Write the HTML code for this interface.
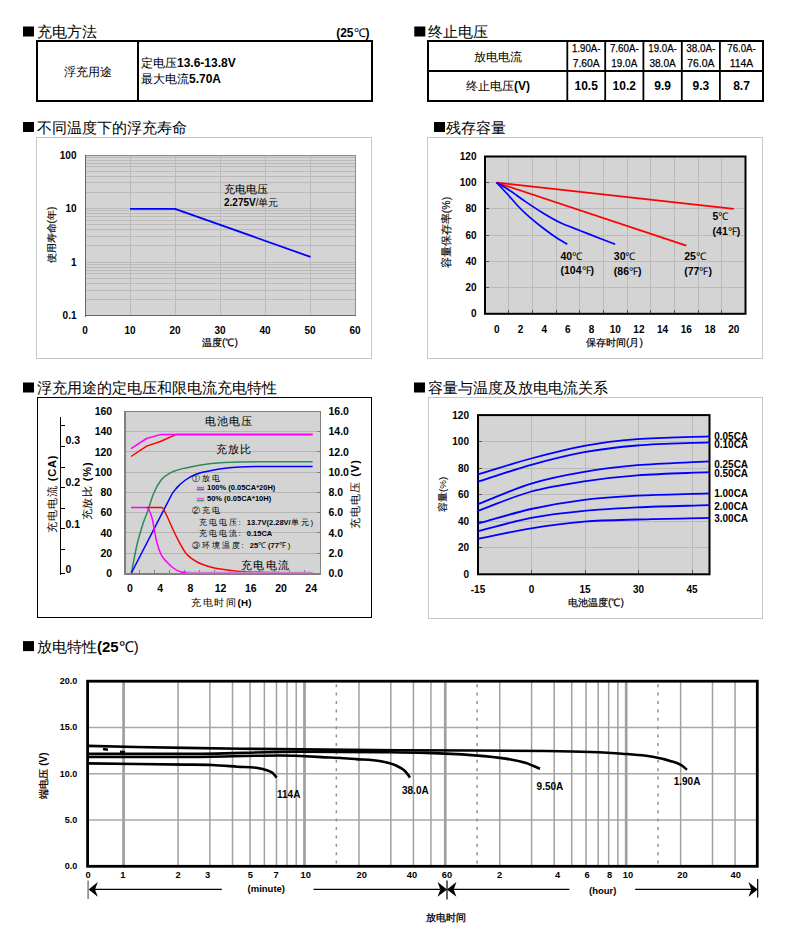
<!DOCTYPE html>
<html><head><meta charset="utf-8"><style>
html,body{margin:0;padding:0;background:#fff;}
body{width:788px;height:945px;overflow:hidden;}
svg{display:block;font-family:"Liberation Sans", sans-serif;}
</style></head><body>
<svg width="788" height="945" viewBox="0 0 788 945">
<rect x="23.00" y="26.50" width="11.00" height="10.00" fill="#000" stroke="none" stroke-width="1" />
<text x="37.0" y="37.0" font-size="15" text-anchor="start" fill="#000" >充电方法</text>
<text x="369.5" y="36.5" font-size="12" font-weight="bold" text-anchor="end">(25<tspan font-weight="normal">℃</tspan>)</text>
<path d="M36,41 H373 M36,101 H373" stroke="#000" stroke-width="2" shape-rendering="crispEdges"/>
<path d="M37,40 V102 M372,40 V102 M138,40 V102" stroke="#000" stroke-width="2" shape-rendering="crispEdges"/>
<text x="87.5" y="75.5" font-size="12" text-anchor="middle" fill="#000" >浮充用途</text>
<text x="141" y="67" font-size="12">定电压<tspan font-weight="bold">13.6-13.8V</tspan></text>
<text x="141" y="83" font-size="12">最大电流<tspan font-weight="bold">5.70A</tspan></text>
<rect x="414.30" y="26.50" width="11.00" height="10.00" fill="#000" stroke="none" stroke-width="1" />
<text x="427.5" y="37.0" font-size="15" text-anchor="start" fill="#000" >终止电压</text>
<path d="M427,41 H764 M427,71 H764 M427,101 H764" stroke="#000" stroke-width="2" shape-rendering="crispEdges"/>
<path d="M428,40 V102 M763,40 V102" stroke="#000" stroke-width="2" shape-rendering="crispEdges"/>
<line x1="567.30" y1="40.00" x2="567.30" y2="102.00" stroke="#000" stroke-width="1.8" />
<line x1="605.20" y1="40.00" x2="605.20" y2="102.00" stroke="#000" stroke-width="1.8" />
<line x1="643.40" y1="40.00" x2="643.40" y2="102.00" stroke="#000" stroke-width="1.8" />
<line x1="681.80" y1="40.00" x2="681.80" y2="102.00" stroke="#000" stroke-width="1.8" />
<line x1="719.90" y1="40.00" x2="719.90" y2="102.00" stroke="#000" stroke-width="1.8" />
<text x="498.0" y="60.5" font-size="12" text-anchor="middle" fill="#000" >放电电流</text>
<text x="498" y="90" font-size="12" text-anchor="middle">终止电压<tspan font-weight="bold">(V)</tspan></text>
<text x="586.2" y="52.3" font-size="11.5" text-anchor="middle" fill="#000" textLength="28.3" lengthAdjust="spacingAndGlyphs" stroke="#000" stroke-width="0.25">1.90A-</text>
<text x="586.2" y="67.4" font-size="11.5" text-anchor="middle" fill="#000" textLength="27.0" lengthAdjust="spacingAndGlyphs" stroke="#000" stroke-width="0.25">7.60A</text>
<text x="586.2" y="89.5" font-size="12" font-weight="bold" text-anchor="middle" fill="#000" >10.5</text>
<text x="624.3" y="52.3" font-size="11.5" text-anchor="middle" fill="#000" textLength="28.8" lengthAdjust="spacingAndGlyphs" stroke="#000" stroke-width="0.25">7.60A-</text>
<text x="624.3" y="67.4" font-size="11.5" text-anchor="middle" fill="#000" textLength="25.9" lengthAdjust="spacingAndGlyphs" stroke="#000" stroke-width="0.25">19.0A</text>
<text x="624.3" y="89.5" font-size="12" font-weight="bold" text-anchor="middle" fill="#000" >10.2</text>
<text x="662.6" y="52.3" font-size="11.5" text-anchor="middle" fill="#000" textLength="28.5" lengthAdjust="spacingAndGlyphs" stroke="#000" stroke-width="0.25">19.0A-</text>
<text x="662.6" y="67.4" font-size="11.5" text-anchor="middle" fill="#000" textLength="26.4" lengthAdjust="spacingAndGlyphs" stroke="#000" stroke-width="0.25">38.0A</text>
<text x="662.6" y="89.5" font-size="12" font-weight="bold" text-anchor="middle" fill="#000" >9.9</text>
<text x="700.8" y="52.3" font-size="11.5" text-anchor="middle" fill="#000" textLength="29.3" lengthAdjust="spacingAndGlyphs" stroke="#000" stroke-width="0.25">38.0A-</text>
<text x="700.8" y="67.4" font-size="11.5" text-anchor="middle" fill="#000" textLength="27.2" lengthAdjust="spacingAndGlyphs" stroke="#000" stroke-width="0.25">76.0A</text>
<text x="700.8" y="89.5" font-size="12" font-weight="bold" text-anchor="middle" fill="#000" >9.3</text>
<text x="741.5" y="52.3" font-size="11.5" text-anchor="middle" fill="#000" textLength="28.5" lengthAdjust="spacingAndGlyphs" stroke="#000" stroke-width="0.25">76.0A-</text>
<text x="741.5" y="67.4" font-size="11.5" text-anchor="middle" fill="#000" textLength="23.5" lengthAdjust="spacingAndGlyphs" stroke="#000" stroke-width="0.25">114A</text>
<text x="741.5" y="89.5" font-size="12" font-weight="bold" text-anchor="middle" fill="#000" >8.7</text>
<rect x="23.00" y="122.00" width="11.00" height="10.00" fill="#000" stroke="none" stroke-width="1" />
<text x="37.0" y="132.5" font-size="15" text-anchor="start" fill="#000" >不同温度下的浮充寿命</text>
<rect x="36.50" y="137.50" width="335.00" height="221.00" fill="#fff" stroke="#c6c6c6" stroke-width="1" shape-rendering="crispEdges"/>
<rect x="85.00" y="155.00" width="271.00" height="160.60" fill="#d4d4d4" stroke="none" stroke-width="1" />
<line x1="85.0" y1="299.5" x2="356.0" y2="299.5" stroke="#bababa" stroke-width="1" shape-rendering="crispEdges"/>
<line x1="85.0" y1="290.5" x2="356.0" y2="290.5" stroke="#bababa" stroke-width="1" shape-rendering="crispEdges"/>
<line x1="85.0" y1="283.5" x2="356.0" y2="283.5" stroke="#bababa" stroke-width="1" shape-rendering="crispEdges"/>
<line x1="85.0" y1="278.5" x2="356.0" y2="278.5" stroke="#bababa" stroke-width="1" shape-rendering="crispEdges"/>
<line x1="85.0" y1="273.5" x2="356.0" y2="273.5" stroke="#bababa" stroke-width="1" shape-rendering="crispEdges"/>
<line x1="85.0" y1="270.5" x2="356.0" y2="270.5" stroke="#bababa" stroke-width="1" shape-rendering="crispEdges"/>
<line x1="85.0" y1="267.5" x2="356.0" y2="267.5" stroke="#bababa" stroke-width="1" shape-rendering="crispEdges"/>
<line x1="85.0" y1="264.5" x2="356.0" y2="264.5" stroke="#bababa" stroke-width="1" shape-rendering="crispEdges"/>
<line x1="85.0" y1="245.5" x2="356.0" y2="245.5" stroke="#bababa" stroke-width="1" shape-rendering="crispEdges"/>
<line x1="85.0" y1="236.5" x2="356.0" y2="236.5" stroke="#bababa" stroke-width="1" shape-rendering="crispEdges"/>
<line x1="85.0" y1="229.5" x2="356.0" y2="229.5" stroke="#bababa" stroke-width="1" shape-rendering="crispEdges"/>
<line x1="85.0" y1="224.5" x2="356.0" y2="224.5" stroke="#bababa" stroke-width="1" shape-rendering="crispEdges"/>
<line x1="85.0" y1="220.5" x2="356.0" y2="220.5" stroke="#bababa" stroke-width="1" shape-rendering="crispEdges"/>
<line x1="85.0" y1="216.5" x2="356.0" y2="216.5" stroke="#bababa" stroke-width="1" shape-rendering="crispEdges"/>
<line x1="85.0" y1="213.5" x2="356.0" y2="213.5" stroke="#bababa" stroke-width="1" shape-rendering="crispEdges"/>
<line x1="85.0" y1="210.5" x2="356.0" y2="210.5" stroke="#bababa" stroke-width="1" shape-rendering="crispEdges"/>
<line x1="85.0" y1="262.5" x2="356.0" y2="262.5" stroke="#bababa" stroke-width="1" shape-rendering="crispEdges"/>
<line x1="85.0" y1="192.5" x2="356.0" y2="192.5" stroke="#bababa" stroke-width="1" shape-rendering="crispEdges"/>
<line x1="85.0" y1="182.5" x2="356.0" y2="182.5" stroke="#bababa" stroke-width="1" shape-rendering="crispEdges"/>
<line x1="85.0" y1="176.5" x2="356.0" y2="176.5" stroke="#bababa" stroke-width="1" shape-rendering="crispEdges"/>
<line x1="85.0" y1="171.5" x2="356.0" y2="171.5" stroke="#bababa" stroke-width="1" shape-rendering="crispEdges"/>
<line x1="85.0" y1="166.5" x2="356.0" y2="166.5" stroke="#bababa" stroke-width="1" shape-rendering="crispEdges"/>
<line x1="85.0" y1="163.5" x2="356.0" y2="163.5" stroke="#bababa" stroke-width="1" shape-rendering="crispEdges"/>
<line x1="85.0" y1="160.5" x2="356.0" y2="160.5" stroke="#bababa" stroke-width="1" shape-rendering="crispEdges"/>
<line x1="85.0" y1="157.5" x2="356.0" y2="157.5" stroke="#bababa" stroke-width="1" shape-rendering="crispEdges"/>
<line x1="85.0" y1="208.5" x2="356.0" y2="208.5" stroke="#bababa" stroke-width="1" shape-rendering="crispEdges"/>
<line x1="130.5" y1="155.0" x2="130.5" y2="315.6" stroke="#bababa" stroke-width="1" shape-rendering="crispEdges" />
<line x1="175.5" y1="155.0" x2="175.5" y2="315.6" stroke="#bababa" stroke-width="1" shape-rendering="crispEdges" />
<line x1="220.5" y1="155.0" x2="220.5" y2="315.6" stroke="#bababa" stroke-width="1" shape-rendering="crispEdges" />
<line x1="265.5" y1="155.0" x2="265.5" y2="315.6" stroke="#bababa" stroke-width="1" shape-rendering="crispEdges" />
<line x1="310.5" y1="155.0" x2="310.5" y2="315.6" stroke="#bababa" stroke-width="1" shape-rendering="crispEdges" />
<rect x="85.5" y="155.5" width="270" height="159.60000000000002" fill="none" stroke="#8c8c8c" stroke-width="1" shape-rendering="crispEdges"/>
<line x1="85.5" y1="155.0" x2="85.5" y2="316.6" stroke="#666" stroke-width="1.5" shape-rendering="crispEdges" />
<line x1="85.0" y1="315.5" x2="356.0" y2="315.5" stroke="#666" stroke-width="1.5" shape-rendering="crispEdges"/>
<text x="76.5" y="319.1" font-size="10" font-weight="bold" text-anchor="end" fill="#000" >0.1</text>
<text x="76.5" y="265.6" font-size="10" font-weight="bold" text-anchor="end" fill="#000" >1</text>
<text x="76.5" y="212.0" font-size="10" font-weight="bold" text-anchor="end" fill="#000" >10</text>
<text x="76.5" y="158.5" font-size="10" font-weight="bold" text-anchor="end" fill="#000" >100</text>
<text x="85.0" y="333.6" font-size="10" font-weight="bold" text-anchor="middle" fill="#000" >0</text>
<text x="130.0" y="333.6" font-size="10" font-weight="bold" text-anchor="middle" fill="#000" >10</text>
<text x="175.0" y="333.6" font-size="10" font-weight="bold" text-anchor="middle" fill="#000" >20</text>
<text x="220.0" y="333.6" font-size="10" font-weight="bold" text-anchor="middle" fill="#000" >30</text>
<text x="265.0" y="333.6" font-size="10" font-weight="bold" text-anchor="middle" fill="#000" >40</text>
<text x="310.0" y="333.6" font-size="10" font-weight="bold" text-anchor="middle" fill="#000" >50</text>
<text x="355.0" y="333.6" font-size="10" font-weight="bold" text-anchor="middle" fill="#000" >60</text>
<text x="220" y="345.8" font-size="10.3" stroke="#000" stroke-width="0.2" text-anchor="middle">温度(℃)</text>
<text transform="translate(55,235) rotate(-90)" font-size="10.3" stroke="#000" stroke-width="0.15" text-anchor="middle">使用寿命(年)</text>
<polyline points="130.0,208.8 175.0,208.8 310.5,256.9" fill="none" stroke="#0000ff" stroke-width="1.8" stroke-linejoin="round" stroke-linecap="butt" />
<text x="224.0" y="192.8" font-size="10.5" text-anchor="start" fill="#000" >充电电压</text>
<text x="224" y="206" font-size="10"><tspan font-weight="bold">2.275V</tspan>/单元</text>
<rect x="434.00" y="122.00" width="11.00" height="10.00" fill="#000" stroke="none" stroke-width="1" />
<text x="446.0" y="132.5" font-size="15" text-anchor="start" fill="#000" >残存容量</text>
<rect x="427.50" y="137.50" width="334.50" height="220.50" fill="#fff" stroke="#c6c6c6" stroke-width="1" shape-rendering="crispEdges"/>
<rect x="485.00" y="156.50" width="260.50" height="157.30" fill="#d4d4d4" stroke="none" stroke-width="1" />
<line x1="508.5" y1="156.5" x2="508.5" y2="313.8" stroke="#bababa" stroke-width="1" shape-rendering="crispEdges" />
<line x1="508.5" y1="309.8" x2="508.5" y2="313.8" stroke="#555" stroke-width="1" shape-rendering="crispEdges" />
<line x1="532.5" y1="156.5" x2="532.5" y2="313.8" stroke="#bababa" stroke-width="1" shape-rendering="crispEdges" />
<line x1="532.5" y1="309.8" x2="532.5" y2="313.8" stroke="#555" stroke-width="1" shape-rendering="crispEdges" />
<line x1="556.5" y1="156.5" x2="556.5" y2="313.8" stroke="#bababa" stroke-width="1" shape-rendering="crispEdges" />
<line x1="556.5" y1="309.8" x2="556.5" y2="313.8" stroke="#555" stroke-width="1" shape-rendering="crispEdges" />
<line x1="579.5" y1="156.5" x2="579.5" y2="313.8" stroke="#bababa" stroke-width="1" shape-rendering="crispEdges" />
<line x1="579.5" y1="309.8" x2="579.5" y2="313.8" stroke="#555" stroke-width="1" shape-rendering="crispEdges" />
<line x1="603.5" y1="156.5" x2="603.5" y2="313.8" stroke="#bababa" stroke-width="1" shape-rendering="crispEdges" />
<line x1="603.5" y1="309.8" x2="603.5" y2="313.8" stroke="#555" stroke-width="1" shape-rendering="crispEdges" />
<line x1="627.5" y1="156.5" x2="627.5" y2="313.8" stroke="#bababa" stroke-width="1" shape-rendering="crispEdges" />
<line x1="627.5" y1="309.8" x2="627.5" y2="313.8" stroke="#555" stroke-width="1" shape-rendering="crispEdges" />
<line x1="650.5" y1="156.5" x2="650.5" y2="313.8" stroke="#bababa" stroke-width="1" shape-rendering="crispEdges" />
<line x1="650.5" y1="309.8" x2="650.5" y2="313.8" stroke="#555" stroke-width="1" shape-rendering="crispEdges" />
<line x1="674.5" y1="156.5" x2="674.5" y2="313.8" stroke="#bababa" stroke-width="1" shape-rendering="crispEdges" />
<line x1="674.5" y1="309.8" x2="674.5" y2="313.8" stroke="#555" stroke-width="1" shape-rendering="crispEdges" />
<line x1="698.5" y1="156.5" x2="698.5" y2="313.8" stroke="#bababa" stroke-width="1" shape-rendering="crispEdges" />
<line x1="698.5" y1="309.8" x2="698.5" y2="313.8" stroke="#555" stroke-width="1" shape-rendering="crispEdges" />
<line x1="721.5" y1="156.5" x2="721.5" y2="313.8" stroke="#bababa" stroke-width="1" shape-rendering="crispEdges" />
<line x1="721.5" y1="309.8" x2="721.5" y2="313.8" stroke="#555" stroke-width="1" shape-rendering="crispEdges" />
<line x1="485.0" y1="287.5" x2="745.5" y2="287.5" stroke="#bababa" stroke-width="1" shape-rendering="crispEdges"/>
<line x1="485.0" y1="287.5" x2="489.0" y2="287.5" stroke="#555" stroke-width="1" shape-rendering="crispEdges"/>
<line x1="485.0" y1="261.5" x2="745.5" y2="261.5" stroke="#bababa" stroke-width="1" shape-rendering="crispEdges"/>
<line x1="485.0" y1="261.5" x2="489.0" y2="261.5" stroke="#555" stroke-width="1" shape-rendering="crispEdges"/>
<line x1="485.0" y1="235.5" x2="745.5" y2="235.5" stroke="#bababa" stroke-width="1" shape-rendering="crispEdges"/>
<line x1="485.0" y1="235.5" x2="489.0" y2="235.5" stroke="#555" stroke-width="1" shape-rendering="crispEdges"/>
<line x1="485.0" y1="208.5" x2="745.5" y2="208.5" stroke="#bababa" stroke-width="1" shape-rendering="crispEdges"/>
<line x1="485.0" y1="208.5" x2="489.0" y2="208.5" stroke="#555" stroke-width="1" shape-rendering="crispEdges"/>
<line x1="485.0" y1="182.5" x2="745.5" y2="182.5" stroke="#bababa" stroke-width="1" shape-rendering="crispEdges"/>
<line x1="485.0" y1="182.5" x2="489.0" y2="182.5" stroke="#555" stroke-width="1" shape-rendering="crispEdges"/>
<rect x="485.00" y="156.50" width="260.50" height="157.30" fill="none" stroke="#000" stroke-width="2" />
<text x="476.5" y="317.3" font-size="10" font-weight="bold" text-anchor="end" fill="#000" >0</text>
<text x="476.5" y="291.1" font-size="10" font-weight="bold" text-anchor="end" fill="#000" >20</text>
<text x="476.5" y="264.9" font-size="10" font-weight="bold" text-anchor="end" fill="#000" >40</text>
<text x="476.5" y="238.7" font-size="10" font-weight="bold" text-anchor="end" fill="#000" >60</text>
<text x="476.5" y="212.4" font-size="10" font-weight="bold" text-anchor="end" fill="#000" >80</text>
<text x="476.5" y="186.2" font-size="10" font-weight="bold" text-anchor="end" fill="#000" >100</text>
<text x="476.5" y="160.0" font-size="10" font-weight="bold" text-anchor="end" fill="#000" >120</text>
<text x="496.8" y="332.8" font-size="10" font-weight="bold" text-anchor="middle" fill="#000" >0</text>
<text x="520.5" y="332.8" font-size="10" font-weight="bold" text-anchor="middle" fill="#000" >2</text>
<text x="544.2" y="332.8" font-size="10" font-weight="bold" text-anchor="middle" fill="#000" >4</text>
<text x="567.9" y="332.8" font-size="10" font-weight="bold" text-anchor="middle" fill="#000" >6</text>
<text x="591.6" y="332.8" font-size="10" font-weight="bold" text-anchor="middle" fill="#000" >8</text>
<text x="615.2" y="332.8" font-size="10" font-weight="bold" text-anchor="middle" fill="#000" >10</text>
<text x="638.9" y="332.8" font-size="10" font-weight="bold" text-anchor="middle" fill="#000" >12</text>
<text x="662.6" y="332.8" font-size="10" font-weight="bold" text-anchor="middle" fill="#000" >14</text>
<text x="686.3" y="332.8" font-size="10" font-weight="bold" text-anchor="middle" fill="#000" >16</text>
<text x="710.0" y="332.8" font-size="10" font-weight="bold" text-anchor="middle" fill="#000" >18</text>
<text x="733.7" y="332.8" font-size="10" font-weight="bold" text-anchor="middle" fill="#000" >20</text>
<text x="614.5" y="345.8" font-size="10.3" stroke="#000" stroke-width="0.2" text-anchor="middle">保存时间(月)</text>
<text transform="translate(450,232.5) rotate(-90)" font-size="10.5" stroke="#000" stroke-width="0.15" text-anchor="middle">容量保存率(%)</text>
<polyline points="496.8,182.7 733.7,208.9" fill="none" stroke="#ff0000" stroke-width="1.7" stroke-linejoin="round" stroke-linecap="butt" />
<polyline points="496.8,182.7 686.3,245.6" fill="none" stroke="#ff0000" stroke-width="1.7" stroke-linejoin="round" stroke-linecap="butt" />
<path d="M496.5,182.5 C500.3,184.7 504.0,186.8 507.8,189.2 C513.7,193.0 519.6,197.6 525.5,201.6 C531.4,205.6 537.4,209.6 543.3,213.2 C549.2,216.8 555.1,220.2 561.0,223.0 C564.6,224.7 568.1,226.0 571.7,227.4 C577.0,229.5 582.4,231.5 587.7,233.6 C596.9,237.2 606.0,240.7 615.2,244.3" fill="none" stroke="#0000ff" stroke-width="1.7" stroke-linejoin="round" />
<path d="M496.5,182.5 C500.3,186.5 504.0,190.4 507.8,194.5 C511.3,198.4 514.9,202.8 518.4,206.5 C521.9,210.2 525.5,213.6 529.0,216.7 C533.8,220.9 538.5,224.7 543.3,228.3 C547.4,231.5 551.6,234.5 555.7,237.2 C559.6,239.8 563.4,241.9 567.3,244.3" fill="none" stroke="#0000ff" stroke-width="1.7" stroke-linejoin="round" />
<text x="712.6" y="220" font-size="10.5" font-weight="bold">5<tspan font-weight="normal">℃</tspan></text>
<text x="712.6" y="234.5" font-size="10.5" font-weight="bold">(41<tspan font-weight="normal">℉</tspan>)</text>
<text x="684.2" y="260" font-size="10.5" font-weight="bold">25<tspan font-weight="normal">℃</tspan></text>
<text x="684.2" y="274.5" font-size="10.5" font-weight="bold">(77<tspan font-weight="normal">℉</tspan>)</text>
<text x="613.8" y="260" font-size="10.5" font-weight="bold">30<tspan font-weight="normal">℃</tspan></text>
<text x="613.8" y="274.5" font-size="10.5" font-weight="bold">(86<tspan font-weight="normal">℉</tspan>)</text>
<text x="560.5" y="259.7" font-size="10.5" font-weight="bold">40<tspan font-weight="normal">℃</tspan></text>
<text x="560.5" y="274.2" font-size="10.5" font-weight="bold">(104<tspan font-weight="normal">℉</tspan>)</text>
<rect x="23.00" y="382.50" width="11.00" height="10.00" fill="#000" stroke="none" stroke-width="1" />
<text x="37.0" y="393.0" font-size="15" text-anchor="start" fill="#000" >浮充用途的定电压和限电流充电特性</text>
<rect x="37.5" y="397" width="334" height="220.5" fill="#fff" stroke="#000" stroke-width="1" shape-rendering="crispEdges"/>
<rect x="124.00" y="411.40" width="196.00" height="162.00" fill="#d4d4d4" stroke="none" stroke-width="1" />
<line x1="124.0" y1="553.5" x2="320.0" y2="553.5" stroke="#b4b4b4" stroke-width="1" shape-rendering="crispEdges"/>
<line x1="124.0" y1="532.5" x2="320.0" y2="532.5" stroke="#b4b4b4" stroke-width="1" shape-rendering="crispEdges"/>
<line x1="124.0" y1="512.5" x2="320.0" y2="512.5" stroke="#b4b4b4" stroke-width="1" shape-rendering="crispEdges"/>
<line x1="124.0" y1="492.5" x2="320.0" y2="492.5" stroke="#b4b4b4" stroke-width="1" shape-rendering="crispEdges"/>
<line x1="124.0" y1="472.5" x2="320.0" y2="472.5" stroke="#b4b4b4" stroke-width="1" shape-rendering="crispEdges"/>
<line x1="124.0" y1="451.5" x2="320.0" y2="451.5" stroke="#b4b4b4" stroke-width="1" shape-rendering="crispEdges"/>
<line x1="124.0" y1="431.5" x2="320.0" y2="431.5" stroke="#b4b4b4" stroke-width="1" shape-rendering="crispEdges"/>
<line x1="124.5" y1="411.4" x2="124.5" y2="574.4" stroke="#808080" stroke-width="2" shape-rendering="crispEdges" />
<line x1="124.0" y1="573.5" x2="321.0" y2="573.5" stroke="#808080" stroke-width="2" shape-rendering="crispEdges"/>
<line x1="320.5" y1="411.4" x2="320.5" y2="574.4" stroke="#808080" stroke-width="1" shape-rendering="crispEdges" />
<line x1="124.0" y1="411.5" x2="320.0" y2="411.5" stroke="#808080" stroke-width="1" shape-rendering="crispEdges"/>
<line x1="139.5" y1="570.4" x2="139.5" y2="573.4" stroke="#808080" stroke-width="1" shape-rendering="crispEdges" />
<line x1="154.5" y1="570.4" x2="154.5" y2="573.4" stroke="#808080" stroke-width="1" shape-rendering="crispEdges" />
<line x1="169.5" y1="570.4" x2="169.5" y2="573.4" stroke="#808080" stroke-width="1" shape-rendering="crispEdges" />
<line x1="184.5" y1="570.4" x2="184.5" y2="573.4" stroke="#808080" stroke-width="1" shape-rendering="crispEdges" />
<line x1="199.5" y1="570.4" x2="199.5" y2="573.4" stroke="#808080" stroke-width="1" shape-rendering="crispEdges" />
<line x1="214.5" y1="570.4" x2="214.5" y2="573.4" stroke="#808080" stroke-width="1" shape-rendering="crispEdges" />
<line x1="229.5" y1="570.4" x2="229.5" y2="573.4" stroke="#808080" stroke-width="1" shape-rendering="crispEdges" />
<line x1="244.5" y1="570.4" x2="244.5" y2="573.4" stroke="#808080" stroke-width="1" shape-rendering="crispEdges" />
<line x1="259.5" y1="570.4" x2="259.5" y2="573.4" stroke="#808080" stroke-width="1" shape-rendering="crispEdges" />
<line x1="274.5" y1="570.4" x2="274.5" y2="573.4" stroke="#808080" stroke-width="1" shape-rendering="crispEdges" />
<line x1="289.5" y1="570.4" x2="289.5" y2="573.4" stroke="#808080" stroke-width="1" shape-rendering="crispEdges" />
<line x1="304.5" y1="570.4" x2="304.5" y2="573.4" stroke="#808080" stroke-width="1" shape-rendering="crispEdges" />
<line x1="317.0" y1="553.5" x2="320.0" y2="553.5" stroke="#808080" stroke-width="1" shape-rendering="crispEdges"/>
<line x1="317.0" y1="532.5" x2="320.0" y2="532.5" stroke="#808080" stroke-width="1" shape-rendering="crispEdges"/>
<line x1="317.0" y1="512.5" x2="320.0" y2="512.5" stroke="#808080" stroke-width="1" shape-rendering="crispEdges"/>
<line x1="317.0" y1="492.5" x2="320.0" y2="492.5" stroke="#808080" stroke-width="1" shape-rendering="crispEdges"/>
<line x1="317.0" y1="472.5" x2="320.0" y2="472.5" stroke="#808080" stroke-width="1" shape-rendering="crispEdges"/>
<line x1="317.0" y1="451.5" x2="320.0" y2="451.5" stroke="#808080" stroke-width="1" shape-rendering="crispEdges"/>
<line x1="317.0" y1="431.5" x2="320.0" y2="431.5" stroke="#808080" stroke-width="1" shape-rendering="crispEdges"/>
<text x="112.2" y="577.2" font-size="10.5" font-weight="bold" text-anchor="end" fill="#000" >0</text>
<text x="112.2" y="556.9" font-size="10.5" font-weight="bold" text-anchor="end" fill="#000" >20</text>
<text x="112.2" y="536.7" font-size="10.5" font-weight="bold" text-anchor="end" fill="#000" >40</text>
<text x="112.2" y="516.4" font-size="10.5" font-weight="bold" text-anchor="end" fill="#000" >60</text>
<text x="112.2" y="496.2" font-size="10.5" font-weight="bold" text-anchor="end" fill="#000" >80</text>
<text x="112.2" y="475.9" font-size="10.5" font-weight="bold" text-anchor="end" fill="#000" >100</text>
<text x="112.2" y="455.7" font-size="10.5" font-weight="bold" text-anchor="end" fill="#000" >120</text>
<text x="112.2" y="435.4" font-size="10.5" font-weight="bold" text-anchor="end" fill="#000" >140</text>
<text x="112.2" y="415.2" font-size="10.5" font-weight="bold" text-anchor="end" fill="#000" >160</text>
<text x="328.5" y="577.2" font-size="10.5" font-weight="bold" text-anchor="start" fill="#000" >0.0</text>
<text x="328.5" y="556.9" font-size="10.5" font-weight="bold" text-anchor="start" fill="#000" >2.0</text>
<text x="328.5" y="536.7" font-size="10.5" font-weight="bold" text-anchor="start" fill="#000" >4.0</text>
<text x="328.5" y="516.4" font-size="10.5" font-weight="bold" text-anchor="start" fill="#000" >6.0</text>
<text x="328.5" y="496.2" font-size="10.5" font-weight="bold" text-anchor="start" fill="#000" >8.0</text>
<text x="328.5" y="475.9" font-size="10.5" font-weight="bold" text-anchor="start" fill="#000" >10.0</text>
<text x="328.5" y="455.7" font-size="10.5" font-weight="bold" text-anchor="start" fill="#000" >12.0</text>
<text x="328.5" y="435.4" font-size="10.5" font-weight="bold" text-anchor="start" fill="#000" >14.0</text>
<text x="328.5" y="415.2" font-size="10.5" font-weight="bold" text-anchor="start" fill="#000" >16.0</text>
<text x="130.0" y="592.0" font-size="10.5" font-weight="bold" text-anchor="middle" fill="#000" >0</text>
<text x="160.2" y="592.0" font-size="10.5" font-weight="bold" text-anchor="middle" fill="#000" >4</text>
<text x="190.4" y="592.0" font-size="10.5" font-weight="bold" text-anchor="middle" fill="#000" >8</text>
<text x="220.6" y="592.0" font-size="10.5" font-weight="bold" text-anchor="middle" fill="#000" >12</text>
<text x="250.8" y="592.0" font-size="10.5" font-weight="bold" text-anchor="middle" fill="#000" >16</text>
<text x="281.0" y="592.0" font-size="10.5" font-weight="bold" text-anchor="middle" fill="#000" >20</text>
<text x="311.2" y="592.0" font-size="10.5" font-weight="bold" text-anchor="middle" fill="#000" >24</text>
<text x="191" y="605.8" font-size="9.8" letter-spacing="1.6">充电时间<tspan font-weight="bold" letter-spacing="0.3">(H)</tspan></text>
<line x1="60.5" y1="417.0" x2="60.5" y2="574.5" stroke="#000" stroke-width="1.3" shape-rendering="crispEdges" />
<line x1="60.5" y1="425.5" x2="64.8" y2="425.5" stroke="#000" stroke-width="1.3" shape-rendering="crispEdges"/>
<line x1="60.5" y1="446.5" x2="64.8" y2="446.5" stroke="#000" stroke-width="1.3" shape-rendering="crispEdges"/>
<line x1="60.5" y1="467.5" x2="64.8" y2="467.5" stroke="#000" stroke-width="1.3" shape-rendering="crispEdges"/>
<line x1="60.5" y1="487.5" x2="64.8" y2="487.5" stroke="#000" stroke-width="1.3" shape-rendering="crispEdges"/>
<line x1="60.5" y1="508.5" x2="64.8" y2="508.5" stroke="#000" stroke-width="1.3" shape-rendering="crispEdges"/>
<line x1="60.5" y1="528.5" x2="64.8" y2="528.5" stroke="#000" stroke-width="1.3" shape-rendering="crispEdges"/>
<line x1="60.5" y1="549.5" x2="64.8" y2="549.5" stroke="#000" stroke-width="1.3" shape-rendering="crispEdges"/>
<line x1="60.5" y1="573.5" x2="64.8" y2="573.5" stroke="#000" stroke-width="1.3" shape-rendering="crispEdges"/>
<text x="65.5" y="443.5" font-size="10.5" font-weight="bold" text-anchor="start" fill="#000" >0.3</text>
<text x="65.5" y="485.5" font-size="10.5" font-weight="bold" text-anchor="start" fill="#000" >0.2</text>
<text x="65.5" y="528.0" font-size="10.5" font-weight="bold" text-anchor="start" fill="#000" >0.1</text>
<text x="65.5" y="573.0" font-size="10.5" font-weight="bold" text-anchor="start" fill="#000" >0</text>
<text transform="translate(55.5,494) rotate(-90)" font-size="11" text-anchor="middle" letter-spacing="1">充电电流 <tspan font-weight="bold" letter-spacing="0.8">(CA)</tspan></text>
<text transform="translate(91,491) rotate(-90)" font-size="11" text-anchor="middle" letter-spacing="0.8">充放比 <tspan font-weight="bold">(%)</tspan></text>
<text transform="translate(359,494) rotate(-90)" font-size="11" text-anchor="middle" letter-spacing="1">充电电压 <tspan font-weight="bold">(V)</tspan></text>
<text x="204.6" y="425.3" font-size="11" text-anchor="start" fill="#000" letter-spacing="1.3">电池电压</text>
<text x="215.5" y="453.3" font-size="11" text-anchor="start" fill="#000" letter-spacing="1.4">充放比</text>
<text x="241.0" y="569.0" font-size="11" text-anchor="start" fill="#000" letter-spacing="1.3">充电电流</text>
<polyline points="131.0,456.5 146.6,446.1 160.4,441.5 176.3,434.4 312.6,434.4" fill="none" stroke="#ff0000" stroke-width="1.5" stroke-linejoin="round" stroke-linecap="butt" />
<polyline points="131.0,448.7 146.6,438.5 161.1,434.4 312.6,434.4" fill="none" stroke="#ff00ff" stroke-width="1.5" stroke-linejoin="round" stroke-linecap="butt" />
<path d="M131.4,573.0 C133.2,563.8 135.0,553.3 136.8,545.5 C138.8,536.9 140.8,530.4 142.8,524.2 C144.3,519.4 145.9,516.3 147.4,512.0 C149.4,506.3 151.5,498.6 153.5,493.7 C156.0,487.6 158.6,483.3 161.1,480.0 C164.2,476.0 167.2,474.4 170.3,472.8 C177.4,469.0 184.5,468.3 191.6,466.7 C198.2,465.2 204.8,464.3 211.4,463.6 C220.9,462.6 230.5,462.2 240.0,462.0 C250.0,461.8 260.0,461.8 270.0,461.8 C284.2,461.8 298.4,461.8 312.6,461.8" fill="none" stroke="#2e8b57" stroke-width="1.5" stroke-linejoin="round" />
<path d="M131.4,573 L172.5,493  C174.3,490.9 176.1,488.4 177.9,486.6 C180.4,484.0 183.0,481.8 185.5,480.0 C189.0,477.5 192.6,475.7 196.1,474.3 C201.2,472.3 206.3,471.4 211.4,470.5 C220.9,468.7 230.5,467.7 240.0,467.1 C250.0,466.5 260.0,466.5 270.0,466.5 C284.2,466.5 298.4,466.5 312.6,466.5" fill="none" stroke="#0000ff" stroke-width="1.5" stroke-linejoin="round" />
<path d="M131.0,507.4 C136.2,507.4 141.4,507.4 146.6,507.4 C148.4,507.4 150.2,511.6 152.0,518.0 C153.5,523.3 155.0,534.9 156.5,541.0 C158.0,547.2 159.6,551.4 161.1,554.6 C163.1,558.9 165.2,560.0 167.2,562.2 C169.2,564.4 171.3,566.5 173.3,568.0 C175.9,569.9 178.4,571.5 181.0,572.0 C184.0,572.6 187.0,572.5 190.0,572.6" fill="none" stroke="#ff00ff" stroke-width="1.5" stroke-linejoin="round" />
<path d="M146.6,507.4 C151.7,507.4 156.8,507.4 161.9,507.4 C163.2,507.4 164.4,511.1 165.7,513.5 C168.2,518.3 170.8,525.0 173.3,530.3 C175.3,534.6 177.4,538.8 179.4,542.4 C181.9,546.9 184.5,551.7 187.0,554.6 C191.1,559.3 195.1,560.9 199.2,563.0 C204.3,565.6 209.3,566.8 214.4,568.0 C218.5,569.0 222.5,569.3 226.6,569.8 C231.1,570.4 235.5,571.0 240.0,571.4 C246.7,571.9 253.3,572.1 260.0,572.3 C266.7,572.5 273.3,572.5 280.0,572.6" fill="none" stroke="#ff0000" stroke-width="1.5" stroke-linejoin="round" />
<line x1="186.00" y1="572.60" x2="312.60" y2="572.60" stroke="#d67ad6" stroke-width="1.5" />
<text x="192" y="480.7" font-size="8" letter-spacing="1.9">①放电</text>
<line x1="196.80" y1="487.60" x2="204.20" y2="487.60" stroke="#ff5050" stroke-width="1.6" />
<line x1="196.80" y1="489.60" x2="204.20" y2="489.60" stroke="#5060ff" stroke-width="1.6" />
<line x1="196.80" y1="498.60" x2="204.20" y2="498.60" stroke="#ff50ff" stroke-width="1.6" />
<line x1="196.80" y1="500.60" x2="204.20" y2="500.60" stroke="#40a060" stroke-width="1.6" />
<text x="207" y="489.8" font-weight="bold" font-size="7.5" letter-spacing="0">100% (0.05CA*20H)</text>
<text x="207" y="500.5" font-weight="bold" font-size="7.5" letter-spacing="0">50% (0.05CA*10H)</text>
<text x="192" y="513.2" font-size="8" letter-spacing="1.9">②充电</text>
<text x="199" y="525.3" font-size="8" letter-spacing="1.9">充电电压: <tspan font-weight="bold" font-size="7.5" letter-spacing="0">13.7V(2.28V/</tspan>单元)</text>
<text x="199" y="536.2" font-size="8" letter-spacing="1.9">充电电流: <tspan font-weight="bold" font-size="7.5" letter-spacing="0">0.15CA</tspan></text>
<text x="192" y="548.4" font-size="8" letter-spacing="1.9">③环境温度: <tspan font-weight="bold" font-size="7.5" letter-spacing="0">25</tspan>℃<tspan font-weight="bold" font-size="7.5" letter-spacing="0">(77</tspan>℉)</text>
<rect x="414.00" y="382.50" width="11.00" height="10.00" fill="#000" stroke="none" stroke-width="1" />
<text x="428.0" y="393.0" font-size="15" text-anchor="start" fill="#000" >容量与温度及放电电流关系</text>
<rect x="428.00" y="397.50" width="334.50" height="220.50" fill="#fff" stroke="#c6c6c6" stroke-width="1" shape-rendering="crispEdges"/>
<rect x="478.00" y="415.10" width="231.50" height="159.20" fill="#d4d4d4" stroke="none" stroke-width="1" />
<line x1="478.0" y1="547.5" x2="709.5" y2="547.5" stroke="#bababa" stroke-width="1" shape-rendering="crispEdges"/>
<line x1="478.0" y1="547.5" x2="482.0" y2="547.5" stroke="#555" stroke-width="1" shape-rendering="crispEdges"/>
<line x1="478.0" y1="521.5" x2="709.5" y2="521.5" stroke="#bababa" stroke-width="1" shape-rendering="crispEdges"/>
<line x1="478.0" y1="521.5" x2="482.0" y2="521.5" stroke="#555" stroke-width="1" shape-rendering="crispEdges"/>
<line x1="478.0" y1="494.5" x2="709.5" y2="494.5" stroke="#bababa" stroke-width="1" shape-rendering="crispEdges"/>
<line x1="478.0" y1="494.5" x2="482.0" y2="494.5" stroke="#555" stroke-width="1" shape-rendering="crispEdges"/>
<line x1="478.0" y1="468.5" x2="709.5" y2="468.5" stroke="#bababa" stroke-width="1" shape-rendering="crispEdges"/>
<line x1="478.0" y1="468.5" x2="482.0" y2="468.5" stroke="#555" stroke-width="1" shape-rendering="crispEdges"/>
<line x1="478.0" y1="441.5" x2="709.5" y2="441.5" stroke="#bababa" stroke-width="1" shape-rendering="crispEdges"/>
<line x1="478.0" y1="441.5" x2="482.0" y2="441.5" stroke="#555" stroke-width="1" shape-rendering="crispEdges"/>
<line x1="531.5" y1="415.1" x2="531.5" y2="574.3" stroke="#bababa" stroke-width="1" shape-rendering="crispEdges" />
<line x1="531.5" y1="570.3" x2="531.5" y2="574.3" stroke="#555" stroke-width="1" shape-rendering="crispEdges" />
<line x1="585.5" y1="415.1" x2="585.5" y2="574.3" stroke="#bababa" stroke-width="1" shape-rendering="crispEdges" />
<line x1="585.5" y1="570.3" x2="585.5" y2="574.3" stroke="#555" stroke-width="1" shape-rendering="crispEdges" />
<line x1="638.5" y1="415.1" x2="638.5" y2="574.3" stroke="#bababa" stroke-width="1" shape-rendering="crispEdges" />
<line x1="638.5" y1="570.3" x2="638.5" y2="574.3" stroke="#555" stroke-width="1" shape-rendering="crispEdges" />
<line x1="692.5" y1="415.1" x2="692.5" y2="574.3" stroke="#bababa" stroke-width="1" shape-rendering="crispEdges" />
<line x1="692.5" y1="570.3" x2="692.5" y2="574.3" stroke="#555" stroke-width="1" shape-rendering="crispEdges" />
<rect x="478.00" y="415.10" width="231.50" height="159.20" fill="none" stroke="#000" stroke-width="2" />
<text x="469.0" y="577.8" font-size="10" font-weight="bold" text-anchor="end" fill="#000" >0</text>
<text x="469.0" y="551.3" font-size="10" font-weight="bold" text-anchor="end" fill="#000" >20</text>
<text x="469.0" y="524.7" font-size="10" font-weight="bold" text-anchor="end" fill="#000" >40</text>
<text x="469.0" y="498.2" font-size="10" font-weight="bold" text-anchor="end" fill="#000" >60</text>
<text x="469.0" y="471.7" font-size="10" font-weight="bold" text-anchor="end" fill="#000" >80</text>
<text x="469.0" y="445.1" font-size="10" font-weight="bold" text-anchor="end" fill="#000" >100</text>
<text x="469.0" y="418.6" font-size="10" font-weight="bold" text-anchor="end" fill="#000" >120</text>
<text x="478.0" y="592.8" font-size="10" font-weight="bold" text-anchor="middle" fill="#000" >-15</text>
<text x="531.5" y="592.8" font-size="10" font-weight="bold" text-anchor="middle" fill="#000" >0</text>
<text x="585.0" y="592.8" font-size="10" font-weight="bold" text-anchor="middle" fill="#000" >15</text>
<text x="638.5" y="592.8" font-size="10" font-weight="bold" text-anchor="middle" fill="#000" >30</text>
<text x="692.0" y="592.8" font-size="10" font-weight="bold" text-anchor="middle" fill="#000" >45</text>
<text x="596" y="606" font-size="10.3" stroke="#000" stroke-width="0.2" text-anchor="middle">电池温度(℃)</text>
<text transform="translate(445.5,494.3) rotate(-90)" font-size="9.8" stroke="#000" stroke-width="0.15" text-anchor="middle">容量<tspan stroke-width="0">(%)</tspan></text>
<path d="M477.9,474.4 C495.7,469.1 513.5,463.3 531.2,458.5 C548.9,453.8 566.6,449.1 584.2,445.9 C601.9,442.6 619.5,440.6 637.2,439.2 C661.3,437.2 685.4,437.3 709.5,436.3" fill="none" stroke="#0000ff" stroke-width="1.8" stroke-linejoin="round" />
<path d="M477.9,481.7 C495.7,476.1 513.5,469.8 531.2,464.9 C548.9,460.0 566.6,455.4 584.2,452.2 C601.9,449.0 619.5,447.0 637.2,445.5 C661.3,443.5 685.4,443.4 709.5,442.4" fill="none" stroke="#0000ff" stroke-width="1.8" stroke-linejoin="round" />
<path d="M477.9,504.2 C495.7,497.4 513.5,489.0 531.2,483.6 C548.9,478.2 566.6,474.9 584.2,471.9 C601.9,468.8 619.5,466.8 637.2,465.2 C661.3,463.1 685.4,462.7 709.5,461.4" fill="none" stroke="#0000ff" stroke-width="1.8" stroke-linejoin="round" />
<path d="M477.9,510.9 C495.7,504.4 513.5,496.5 531.2,491.5 C548.9,486.6 566.6,484.1 584.2,481.4 C601.9,478.7 619.5,476.7 637.2,475.4 C661.3,473.5 685.4,473.2 709.5,472.2" fill="none" stroke="#0000ff" stroke-width="1.8" stroke-linejoin="round" />
<path d="M477.9,523.6 C495.7,518.7 513.5,513.0 531.2,509.0 C548.9,505.0 566.6,502.0 584.2,499.8 C601.9,497.6 619.5,496.6 637.2,495.7 C661.3,494.4 685.4,494.2 709.5,493.4" fill="none" stroke="#0000ff" stroke-width="1.8" stroke-linejoin="round" />
<path d="M477.9,531.2 C495.7,526.8 513.5,521.3 531.2,517.9 C548.9,514.5 566.6,512.6 584.2,510.9 C601.9,509.1 619.5,508.3 637.2,507.4 C661.3,506.2 685.4,505.9 709.5,505.2" fill="none" stroke="#0000ff" stroke-width="1.8" stroke-linejoin="round" />
<path d="M477.9,538.8 C495.7,535.3 513.5,531.2 531.2,528.3 C548.9,525.5 566.6,523.2 584.2,521.7 C601.9,520.2 619.5,520.0 637.2,519.5 C661.3,518.7 685.4,518.4 709.5,517.9" fill="none" stroke="#0000ff" stroke-width="1.8" stroke-linejoin="round" />
<text x="714.2" y="439.8" font-size="10" font-weight="bold" text-anchor="start" fill="#000" >0.05CA</text>
<text x="714.2" y="448.2" font-size="10" font-weight="bold" text-anchor="start" fill="#000" >0.10CA</text>
<text x="714.2" y="467.7" font-size="10" font-weight="bold" text-anchor="start" fill="#000" >0.25CA</text>
<text x="714.2" y="476.8" font-size="10" font-weight="bold" text-anchor="start" fill="#000" >0.50CA</text>
<text x="714.2" y="497.4" font-size="10" font-weight="bold" text-anchor="start" fill="#000" >1.00CA</text>
<text x="714.2" y="509.7" font-size="10" font-weight="bold" text-anchor="start" fill="#000" >2.00CA</text>
<text x="714.2" y="521.5" font-size="10" font-weight="bold" text-anchor="start" fill="#000" >3.00CA</text>
<rect x="23.00" y="641.10" width="11.00" height="10.00" fill="#000" stroke="none" stroke-width="1" />
<text x="37.0" y="651.6" font-size="15" text-anchor="start" fill="#000" >放电特性<tspan font-weight="bold">(25</tspan>℃<tspan>)</tspan></text>
<line x1="87.60" y1="820.02" x2="757.30" y2="820.02" stroke="#a8a8a8" stroke-width="1.5" />
<line x1="87.60" y1="773.75" x2="757.30" y2="773.75" stroke="#a8a8a8" stroke-width="1.5" />
<line x1="87.60" y1="727.48" x2="757.30" y2="727.48" stroke="#a8a8a8" stroke-width="1.5" />
<line x1="123.60" y1="681.20" x2="123.60" y2="866.30" stroke="#a0a0a0" stroke-width="1.5" />
<line x1="178.06" y1="681.20" x2="178.06" y2="866.30" stroke="#a0a0a0" stroke-width="1.5" />
<line x1="209.91" y1="681.20" x2="209.91" y2="866.30" stroke="#a0a0a0" stroke-width="1.5" />
<line x1="232.51" y1="681.20" x2="232.51" y2="866.30" stroke="#a0a0a0" stroke-width="1.5" />
<line x1="250.04" y1="681.20" x2="250.04" y2="866.30" stroke="#a0a0a0" stroke-width="1.5" />
<line x1="264.37" y1="681.20" x2="264.37" y2="866.30" stroke="#a0a0a0" stroke-width="1.5" />
<line x1="276.48" y1="681.20" x2="276.48" y2="866.30" stroke="#a0a0a0" stroke-width="1.5" />
<line x1="286.97" y1="681.20" x2="286.97" y2="866.30" stroke="#a0a0a0" stroke-width="1.5" />
<line x1="296.22" y1="681.20" x2="296.22" y2="866.30" stroke="#a0a0a0" stroke-width="1.5" />
<line x1="304.50" y1="681.20" x2="304.50" y2="866.30" stroke="#a0a0a0" stroke-width="1.5" />
<line x1="358.96" y1="681.20" x2="358.96" y2="866.30" stroke="#a0a0a0" stroke-width="1.5" />
<line x1="390.81" y1="681.20" x2="390.81" y2="866.30" stroke="#a0a0a0" stroke-width="1.5" />
<line x1="413.41" y1="681.20" x2="413.41" y2="866.30" stroke="#a0a0a0" stroke-width="1.5" />
<line x1="430.94" y1="681.20" x2="430.94" y2="866.30" stroke="#a0a0a0" stroke-width="1.5" />
<line x1="445.27" y1="681.20" x2="445.27" y2="866.30" stroke="#a0a0a0" stroke-width="1.5" />
<line x1="499.72" y1="681.20" x2="499.72" y2="866.30" stroke="#a0a0a0" stroke-width="1.5" />
<line x1="531.58" y1="681.20" x2="531.58" y2="866.30" stroke="#a0a0a0" stroke-width="1.5" />
<line x1="554.18" y1="681.20" x2="554.18" y2="866.30" stroke="#a0a0a0" stroke-width="1.5" />
<line x1="571.71" y1="681.20" x2="571.71" y2="866.30" stroke="#a0a0a0" stroke-width="1.5" />
<line x1="586.04" y1="681.20" x2="586.04" y2="866.30" stroke="#a0a0a0" stroke-width="1.5" />
<line x1="598.15" y1="681.20" x2="598.15" y2="866.30" stroke="#a0a0a0" stroke-width="1.5" />
<line x1="608.64" y1="681.20" x2="608.64" y2="866.30" stroke="#a0a0a0" stroke-width="1.5" />
<line x1="617.89" y1="681.20" x2="617.89" y2="866.30" stroke="#a0a0a0" stroke-width="1.5" />
<line x1="626.17" y1="681.20" x2="626.17" y2="866.30" stroke="#a0a0a0" stroke-width="1.5" />
<line x1="680.62" y1="681.20" x2="680.62" y2="866.30" stroke="#a0a0a0" stroke-width="1.5" />
<line x1="712.48" y1="681.20" x2="712.48" y2="866.30" stroke="#a0a0a0" stroke-width="1.5" />
<line x1="735.08" y1="681.20" x2="735.08" y2="866.30" stroke="#a0a0a0" stroke-width="1.5" />
<line x1="304.50" y1="681.20" x2="304.50" y2="866.30" stroke="#a0a0a0" stroke-width="2.7" />
<line x1="445.27" y1="681.20" x2="445.27" y2="866.30" stroke="#a0a0a0" stroke-width="2.7" />
<line x1="626.17" y1="681.20" x2="626.17" y2="866.30" stroke="#a0a0a0" stroke-width="2.7" />
<line x1="123.60" y1="681.20" x2="123.60" y2="866.30" stroke="#a0a0a0" stroke-width="2.7" />
<line x1="336.35" y1="684.20" x2="336.35" y2="866.30" stroke="#909090" stroke-width="1.5" stroke-dasharray="3,5.4"/>
<line x1="477.12" y1="684.20" x2="477.12" y2="866.30" stroke="#909090" stroke-width="1.5" stroke-dasharray="3,5.4"/>
<line x1="658.02" y1="684.20" x2="658.02" y2="866.30" stroke="#909090" stroke-width="1.5" stroke-dasharray="3,5.4"/>
<rect x="87.60" y="681.20" width="669.70" height="185.10" fill="none" stroke="#000" stroke-width="2.8" />
<text x="77.3" y="869.1" font-size="9" font-weight="bold" text-anchor="end" fill="#000" >0.0</text>
<text x="77.3" y="822.8" font-size="9" font-weight="bold" text-anchor="end" fill="#000" >5.0</text>
<text x="77.3" y="776.5" font-size="9" font-weight="bold" text-anchor="end" fill="#000" >10.0</text>
<text x="77.3" y="730.3" font-size="9" font-weight="bold" text-anchor="end" fill="#000" >15.0</text>
<text x="77.3" y="684.0" font-size="9" font-weight="bold" text-anchor="end" fill="#000" >20.0</text>
<text transform="translate(46.5,775.5) rotate(-90)" font-size="10" stroke="#000" stroke-width="0.25" text-anchor="middle">端电压 <tspan font-weight="bold" stroke-width="0">(V)</tspan></text>
<text x="88.1" y="878.0" font-size="9.3" font-weight="bold" text-anchor="middle" fill="#000" >0</text>
<text x="122.8" y="878.0" font-size="9.3" font-weight="bold" text-anchor="middle" fill="#000" >1</text>
<text x="178.0" y="878.0" font-size="9.3" font-weight="bold" text-anchor="middle" fill="#000" >2</text>
<text x="207.5" y="878.0" font-size="9.3" font-weight="bold" text-anchor="middle" fill="#000" >3</text>
<text x="250.4" y="878.0" font-size="9.3" font-weight="bold" text-anchor="middle" fill="#000" >5</text>
<text x="276.0" y="878.0" font-size="9.3" font-weight="bold" text-anchor="middle" fill="#000" >7</text>
<text x="305.7" y="878.0" font-size="9.3" font-weight="bold" text-anchor="middle" fill="#000" >10</text>
<text x="361.7" y="878.0" font-size="9.3" font-weight="bold" text-anchor="middle" fill="#000" >20</text>
<text x="412.0" y="878.0" font-size="9.3" font-weight="bold" text-anchor="middle" fill="#000" >40</text>
<text x="447.0" y="878.0" font-size="9.3" font-weight="bold" text-anchor="middle" fill="#000" >60</text>
<text x="499.5" y="878.0" font-size="9.3" font-weight="bold" text-anchor="middle" fill="#000" >2</text>
<text x="557.5" y="878.0" font-size="9.3" font-weight="bold" text-anchor="middle" fill="#000" >4</text>
<text x="587.0" y="878.0" font-size="9.3" font-weight="bold" text-anchor="middle" fill="#000" >6</text>
<text x="609.6" y="878.0" font-size="9.3" font-weight="bold" text-anchor="middle" fill="#000" >8</text>
<text x="627.9" y="878.0" font-size="9.3" font-weight="bold" text-anchor="middle" fill="#000" >10</text>
<text x="682.5" y="878.0" font-size="9.3" font-weight="bold" text-anchor="middle" fill="#000" >20</text>
<text x="735.7" y="878.0" font-size="9.3" font-weight="bold" text-anchor="middle" fill="#000" >40</text>
<path d="M88.0,745.9 C120.3,746.6 152.7,747.4 185.0,747.9 C223.3,748.5 261.7,749.0 300.0,749.4 C333.3,749.8 366.7,750.0 400.0,750.2 C448.7,750.5 497.3,750.3 546.0,751.0 C560.7,751.2 575.3,751.4 590.0,752.0 C600.8,752.4 611.5,752.9 622.3,753.7 C632.4,754.5 642.6,755.1 652.7,756.8 C659.1,757.9 665.4,759.4 671.8,761.4 C675.0,762.4 678.1,763.3 681.3,765.2 C683.2,766.3 685.1,768.2 687.0,769.7" fill="none" stroke="#000" stroke-width="2.6" stroke-linejoin="round" />
<path d="M88.0,753.9 C120.3,753.9 152.7,753.9 185.0,753.9 C223.3,753.9 261.7,751.8 300.0,751.8 C326.7,751.8 353.3,751.8 380.0,752.1 C395.2,752.3 410.5,752.4 425.7,752.9 C440.9,753.4 456.2,754.0 471.4,755.1 C482.8,756.0 494.2,756.8 505.6,758.6 C512.5,759.7 519.3,760.9 526.2,763.1 C530.8,764.6 535.4,766.9 540.0,768.8" fill="none" stroke="#000" stroke-width="2.6" stroke-linejoin="round" />
<path d="M88.0,757.0 C120.3,757.0 152.7,757.0 185.0,757.0 C216.7,757.0 248.3,755.5 280.0,755.5 C296.7,755.5 313.3,756.7 330.0,757.5 C338.7,757.9 347.3,758.5 356.0,759.1 C364.3,759.7 372.7,759.7 381.0,761.3 C386.3,762.3 391.7,763.5 397.0,766.0 C399.7,767.2 402.3,768.4 405.0,771.0 C406.7,772.6 408.3,775.4 410.0,777.6" fill="none" stroke="#000" stroke-width="2.6" stroke-linejoin="round" />
<path d="M88.0,763.4 C120.3,763.8 152.7,764.2 185.0,764.6 C194.0,764.7 202.9,764.6 211.9,765.0 C220.4,765.3 228.8,766.1 237.3,766.7 C244.1,767.1 250.8,766.9 257.6,768.0 C261.0,768.5 264.3,769.3 267.7,770.5 C269.4,771.1 271.1,771.6 272.8,773.0 C274.1,774.1 275.3,776.1 276.6,777.6" fill="none" stroke="#000" stroke-width="2.6" stroke-linejoin="round" />
<line x1="103.00" y1="749.00" x2="108.00" y2="749.80" stroke="#000" stroke-width="2.6" />
<line x1="120.00" y1="751.80" x2="125.00" y2="752.20" stroke="#000" stroke-width="2.6" />
<text x="277.0" y="797.5" font-size="10" font-weight="bold" text-anchor="start" fill="#000" >114A</text>
<text x="402.0" y="793.7" font-size="10" font-weight="bold" text-anchor="start" fill="#000" >38.0A</text>
<text x="536.6" y="789.9" font-size="10" font-weight="bold" text-anchor="start" fill="#000" >9.50A</text>
<text x="673.7" y="785.3" font-size="10" font-weight="bold" text-anchor="start" fill="#000" >1.90A</text>
<line x1="88.10" y1="880.60" x2="88.10" y2="899.00" stroke="#888" stroke-width="1.6" />
<line x1="92.00" y1="889.40" x2="221.80" y2="889.40" stroke="#000" stroke-width="1.4" />
<path d="M88.6,889.4 L97.8,882 L95,889.4 L97.8,896.8 Z" fill="#000"/>
<text x="266.3" y="892.3" font-size="9.5" font-weight="bold" text-anchor="middle" fill="#000" >(minute)</text>
<line x1="313.60" y1="889.40" x2="440.00" y2="889.40" stroke="#000" stroke-width="1.4" />
<line x1="447.00" y1="880.60" x2="447.00" y2="899.60" stroke="#000" stroke-width="1.2" />
<path d="M447,889.4 L437.6,882 L440.3,889.4 L437.6,896.8 Z" fill="#000"/>
<path d="M447,889.4 L456.4,882 L453.7,889.4 L456.4,896.8 Z" fill="#000"/>
<line x1="454.00" y1="889.40" x2="569.40" y2="889.40" stroke="#000" stroke-width="1.4" />
<text x="602.7" y="893.9" font-size="9.5" font-weight="bold" text-anchor="middle" fill="#000" >(hour)</text>
<line x1="635.20" y1="889.40" x2="752.00" y2="889.40" stroke="#000" stroke-width="1.4" />
<path d="M757.7,889.4 L748.5,882 L751.2,889.4 L748.5,896.8 Z" fill="#000"/>
<line x1="757.70" y1="879.00" x2="757.70" y2="897.50" stroke="#000" stroke-width="1.2" />
<text x="446.0" y="920.5" font-size="10" text-anchor="middle" fill="#000" stroke="#000" stroke-width="0.3">放电时间</text>
</svg>
</body></html>
